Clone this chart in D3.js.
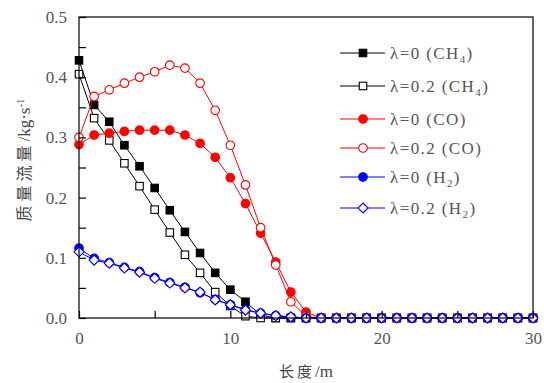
<!DOCTYPE html>
<html>
<head>
<meta charset="utf-8">
<script src="https://cdnjs.cloudflare.com/ajax/libs/d3/7.8.5/d3.min.js"></script>
<style>
  body { margin: 0; background: #fff; }
  svg { display: block; }
  text { font-family: "Liberation Serif", "DejaVu Serif", serif; }
</style>
</head>
<body>
<svg width="544" height="383"></svg>
<script>
"use strict";

// lengths along the reactor (m)
var lengths = [0,1,2,3,4,5,6,7,8,9,10,11,12,13,14,15,16,17,18,19,20,21,22,23,24,25,26,27,28,29,30];

// mass flow rates (kg/s)
var ch4Lam0  = [0.428,0.354,0.326,0.287,0.252,0.216,0.179,0.143,0.108,0.075,0.047,0.027,0.005,0,0,0,0,0,0,0,0,0,0,0,0,0,0,0,0,0,0];
var ch4Lam02 = [0.405,0.332,0.295,0.257,0.219,0.180,0.142,0.105,0.075,0.043,0.020,0.003,0,0,0,0,0,0,0,0,0,0,0,0,0,0,0,0,0,0,0];
var coLam0   = [0.288,0.304,0.307,0.310,0.312,0.312,0.312,0.304,0.290,0.267,0.233,0.190,0.141,0.093,0.043,0.010,0,0,0,0,0,0,0,0,0,0,0,0,0,0,0];
var coLam02  = [0.300,0.368,0.379,0.390,0.400,0.409,0.420,0.415,0.390,0.345,0.287,0.221,0.150,0.088,0.027,0.003,0,0,0,0,0,0,0,0,0,0,0,0,0,0,0];
var h2Lam0   = [0.116,0.099,0.092,0.084,0.077,0.067,0.059,0.051,0.042,0.031,0.022,0.014,0.008,0.004,0.001,0,0,0,0,0,0,0,0,0,0,0,0,0,0,0,0];
var h2Lam02  = [0.110,0.096,0.091,0.083,0.076,0.066,0.058,0.050,0.043,0.030,0.022,0.013,0.008,0.004,0.002,0,0,0,0,0,0,0,0,0,0,0,0,0,0,0,0];

var xTicks = [0, 10, 20, 30];
var yTicks = [0.0, 0.1, 0.2, 0.3, 0.4, 0.5];

var series = [
    { name: "λ=0 (CH", sub: "4", values: ch4Lam0,  color: "#000000", shape: "square",  filled: true },
    { name: "λ=0.2 (CH", sub: "4", values: ch4Lam02, color: "#000000", shape: "square",  filled: false },
    { name: "λ=0 (CO)", sub: "", values: coLam0,   color: "#ff0000", shape: "circle",  filled: true },
    { name: "λ=0.2 (CO)", sub: "", values: coLam02,  color: "#ff0000", shape: "circle",  filled: false },
    { name: "λ=0 (H", sub: "2", values: h2Lam0,   color: "#0000ff", shape: "circle",  filled: true },
    { name: "λ=0.2 (H", sub: "2", values: h2Lam02,  color: "#0000ff", shape: "diamond", filled: false }
];

var svg = d3.select("svg");
var plotL = 79, plotR = 533, plotT = 17, plotB = 318;

var x = d3.scaleLinear().domain([0, 30]).range([plotL, plotR]);
var y = d3.scaleLinear().domain([0, 0.5]).range([plotB, plotT]);

function marker(sel, s) {
    var fill = s.filled ? s.color : "#fff";
    if (s.shape === "square") {
        sel.append("rect")
            .attr("x", -3.75).attr("y", -3.75)
            .attr("width", 7.5).attr("height", 7.5)
            .attr("fill", fill).attr("stroke", s.color).attr("stroke-width", 1.1);
    } else if (s.shape === "circle") {
        sel.append("circle")
            .attr("r", 4.3)
            .attr("fill", fill).attr("stroke", s.color).attr("stroke-width", 1.1);
    } else {
        sel.append("path")
            .attr("d", "M0,-5L5,0L0,5L-5,0Z")
            .attr("fill", fill).attr("stroke", s.color).attr("stroke-width", 1.1);
    }
}

// series
var line = d3.line()
    .x(function(d) { return x(d.x); })
    .y(function(d) { return y(d.v); });

series.forEach(function(s) {
    var pts = lengths.map(function(l, i) { return { x: l, v: s.values[i] }; });
    var g = svg.append("g");
    g.append("path")
        .datum(pts)
        .attr("d", line)
        .attr("fill", "none")
        .attr("stroke", s.color)
        .attr("stroke-width", 1);
    g.selectAll("g.pt")
        .data(pts)
        .enter().append("g")
        .attr("class", "pt")
        .attr("transform", function(d) { return "translate(" + x(d.x) + "," + y(d.v) + ")"; })
        .each(function() { marker(d3.select(this), s); });
});

// frame and axes
svg.append("rect")
    .attr("x", plotL).attr("y", plotT)
    .attr("width", plotR - plotL).attr("height", plotB - plotT)
    .attr("fill", "none").attr("stroke", "#000").attr("stroke-width", 1.2);

var xAxis = svg.append("g")
    .attr("transform", "translate(0," + plotB + ")")
    .call(d3.axisBottom(x).tickValues([0, 5, 10, 15, 20, 25, 30]).tickSize(-7).tickPadding(14)
        .tickFormat(function(d) { return xTicks.indexOf(d) >= 0 ? d : ""; }));

var yAxis = svg.append("g")
    .attr("transform", "translate(" + plotL + ",0)")
    .call(d3.axisLeft(y).tickValues(d3.range(0, 0.501, 0.05)).tickSize(-7).tickPadding(12)
        .tickFormat(function(d) {
            var r = Math.round(d * 10) / 10;
            return Math.abs(r - d) < 1e-6 && yTicks.indexOf(r) >= 0 ? d3.format(".1f")(r) : "";
        }));

[xAxis, yAxis].forEach(function(a) {
    a.select(".domain").remove();
    a.selectAll(".tick line").attr("stroke", "#000").attr("stroke-width", 1.2);
    a.selectAll(".tick text")
        .attr("fill", "#555")
        .style("font-family", "'Liberation Serif', serif")
        .style("font-size", "17px");
});

// axis titles
var xt = svg.append("text")
    .attr("x", 306).attr("y", 377)
    .attr("text-anchor", "middle")
    .attr("fill", "#444")
    .style("font-size", "15px");
xt.append("tspan")
    .style("font-family", "'Noto Sans CJK SC', sans-serif")
    .style("letter-spacing", "3px")
    .text("长度");
xt.append("tspan").style("font-size", "17px").text("/m");

var yt = svg.append("text")
    .attr("transform", "translate(30,160) rotate(-90)")
    .attr("text-anchor", "middle")
    .attr("fill", "#444")
    .style("font-size", "16px");
yt.append("tspan")
    .style("font-family", "'Noto Sans CJK SC', sans-serif")
    .style("letter-spacing", "4px")
    .text("质量流量");
yt.append("tspan").style("font-size", "17px").text("/kg·s");
yt.append("tspan").attr("dy", -6).style("font-size", "11px").text("-1");

// legend
var legendY = [53, 86, 119, 148, 177, 208];
series.forEach(function(s, i) {
    var g = svg.append("g").attr("transform", "translate(0," + legendY[i] + ")");
    g.append("line")
        .attr("x1", 340).attr("x2", 385)
        .attr("stroke", s.color).attr("stroke-width", 1);
    var m = g.append("g").attr("transform", "translate(363,0)");
    marker(m, s);
    var t = g.append("text")
        .attr("x", 390).attr("y", 6)
        .attr("fill", "#555")
        .style("font-size", "17px")
        .style("letter-spacing", "1.4px");
    t.append("tspan").text(s.name);
    if (s.sub) {
        t.append("tspan").attr("dy", 4).style("font-size", "11px").text(s.sub);
        t.append("tspan").attr("dy", -4).text(")");
    }
});
</script>
</body>
</html>
